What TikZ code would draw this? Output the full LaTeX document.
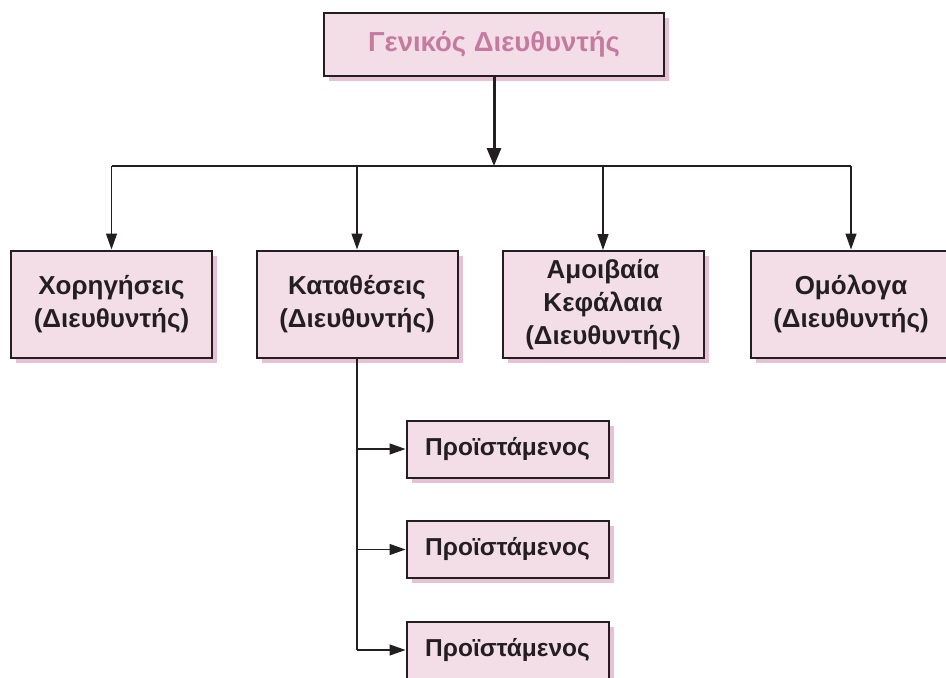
\documentclass[tikz,border=0pt]{standalone}
\usepackage{fontspec}
\setmainfont{Liberation Sans}
\usepackage{xcolor}
\usetikzlibrary{arrows.meta,shadows}
\definecolor{boxfill}{HTML}{F3DEE8}
\definecolor{boxshadow}{HTML}{E8C2D4}
\definecolor{titlepink}{HTML}{C57A9F}
\definecolor{inkblack}{HTML}{231F20}

\begin{document}
\begin{tikzpicture}
[x=1pt,y=-1pt]
\tikzset{
	box/.style = {draw=inkblack, line width=2pt, fill=boxfill, inner sep=0pt, align=center, text=inkblack,
		font=\bfseries\fontsize{26}{33}\selectfont,
		drop shadow={shadow xshift=5pt, shadow yshift=-5pt, fill=boxshadow, opacity=1}},
	general/.style = {box, minimum width=340pt, minimum height=63pt, text=titlepink, font=\bfseries\fontsize{27.5}{33}\selectfont},
	director/.style = {box, minimum width=201pt, minimum height=107pt},
	head/.style = {box, minimum width=202pt, minimum height=57pt, font=\bfseries\fontsize{24.5}{30}\selectfont},
	link/.style = {draw=inkblack, line width=1.4pt},
	linkarrow/.style = {link, -{Triangle[length=16pt,width=11pt]}},
	mainarrow/.style = {draw=inkblack, line width=3pt, -{Triangle[length=18pt,width=14pt]}}
}
\useasboundingbox (0,0) rectangle (946,678);

\node(gm) [general] at (494,44.5) {Γενικός Διευθυντής};

\node(d1) [director] at (111.5,304) {Χορηγήσεις\\(Διευθυντής)};
\node(d2) [director] at (357,304) {Καταθέσεις\\(Διευθυντής)};
\node(d3) [director] at (603,304.5) {Αμοιβαία\\Κεφάλαια\\(Διευθυντής)};
\node(d4) [director] at (851,304) {Ομόλογα\\(Διευθυντής)};

\node(h1) [head] at (507.5,449) {Προϊστάμενος};
\node(h2) [head] at (507.5,549.5) {Προϊστάμενος};
\node(h3) [head] at (507.5,650) {Προϊστάμενος};

\coordinate (hub) at (494,166);

% from the top
\draw [mainarrow] (gm) -- (hub);
\draw [link] (hub -| d1.north) -- (hub -| d4.north);
\foreach \d in {d1,d2,d3,d4}
	\draw [linkarrow] (hub -| \d.north) -- (\d.north);

% under Καταθέσεις
\draw [link] (d2.south) -- (d2.south |- h3.west);
\foreach \h in {h1,h2,h3}
	\draw [linkarrow] (d2.south |- \h.west) -- (\h.west);
\end{tikzpicture}
\end{document}
